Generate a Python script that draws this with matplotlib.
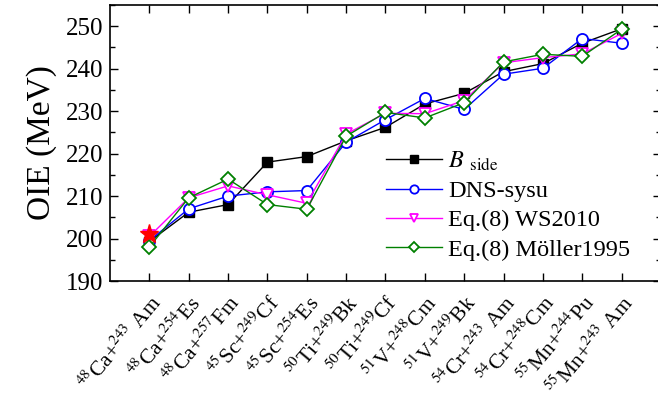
import numpy as np
import matplotlib
matplotlib.use("Agg")
import matplotlib.pyplot as plt
from matplotlib.ticker import MultipleLocator

plt.rcParams['font.family'] = ['Liberation Serif', 'DejaVu Serif']
plt.rcParams['mathtext.fontset'] = 'stix'

reactions = [r"$^{48}$Ca+$^{243}$ Am", r"$^{48}$Ca+$^{254}$Es", r"$^{48}$Ca+$^{257}$Fm",
             r"$^{45}$Sc+$^{249}$Cf", r"$^{45}$Sc+$^{254}$Es", r"$^{50}$Ti+$^{249}$Bk",
             r"$^{50}$Ti+$^{249}$Cf", r"$^{51}$V+$^{248}$Cm", r"$^{51}$V+$^{249}$Bk",
             r"$^{54}$Cr+$^{243}$ Am", r"$^{54}$Cr+$^{248}$Cm", r"$^{55}$Mn+$^{244}$Pu",
             r"$^{55}$Mn+$^{243}$ Am"]

b_side = [199.3, 206.2, 208.0, 218.0, 219.3, 223.0, 226.2, 231.7, 234.2, 239.3, 241.2, 246.0, 249.4]
dns_sysu = [199.5, 207.0, 210.0, 211.0, 211.3, 222.7, 228.0, 233.0, 230.4, 238.7, 240.1, 247.1, 246.0]
ws2010 = [200.5, 209.6, 212.4, 210.3, 208.3, 224.6, 229.5, 229.4, 232.5, 241.4, 242.6, 243.5, 248.3]
moller1995 = [198.0, 209.6, 214.0, 208.0, 206.9, 224.1, 229.7, 228.4, 232.0, 241.6, 243.4, 242.9, 249.3]
exp_value = 201.0

x = np.arange(len(reactions))

fig = plt.figure(figsize=(6.58, 3.99), dpi=100)
ax = fig.add_axes([110 / 658, 1 - 281 / 399, 551 / 658, 276 / 399])

ax.plot(x, b_side, '-s', color='black', mfc='black', ms=7, lw=1.0, label=r"$B$ $_{\rm side}$")
ax.plot(x, dns_sysu, '-o', color='blue', mfc='white', ms=8, mew=1.3, lw=1.0, label='DNS-sysu')
ax.plot(x, ws2010, '-v', color='magenta', mfc='white', ms=8, mew=1.3, lw=1.0, label='Eq.(8) WS2010')
ax.plot(x, moller1995, '-D', color='green', mfc='white', ms=7, mew=1.3, lw=1.0, label='Eq.(8) Möller1995')
ax.plot([0], [exp_value], '*', color='red', ms=14)

ax.set_xlim(-1, 13)
ax.set_ylim(190, 255)
ax.yaxis.set_major_locator(MultipleLocator(10))
ax.yaxis.set_minor_locator(MultipleLocator(5))
ax.set_xticks(x)
ax.set_xticklabels(reactions, rotation=50, ha='right', rotation_mode='anchor', fontsize=15.5)
ax.tick_params(axis='both', which='both', direction='in', top=True, right=True)
ax.tick_params(axis='both', which='major', length=6, width=1)
ax.tick_params(axis='y', which='major', labelsize=18, pad=5)
ax.tick_params(axis='x', which='major', pad=8)
ax.tick_params(axis='y', which='minor', length=3.5, width=1)
ax.set_ylabel('OIE (MeV)', fontsize=24, labelpad=6)
for s in ax.spines.values():
    s.set_linewidth(1.2)

ax.legend(loc='lower left', bbox_to_anchor=(0.47, 0.012), frameon=False, fontsize=17.5,
          markerscale=0.75, handlelength=2.3, handletextpad=0.25, labelspacing=0.3,
          borderaxespad=0.3)

fig.savefig('out.png', dpi=100)
